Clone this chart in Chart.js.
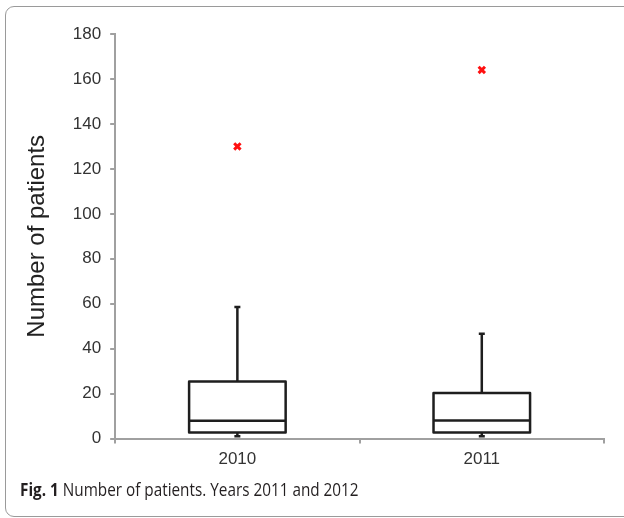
<!DOCTYPE html>
<html>
<head>
<meta charset="utf-8">
<script src="https://cdn.jsdelivr.net/npm/chart.js@4.4.1/dist/chart.umd.min.js"></script>
<style>
  html, body { margin:0; padding:0; background:#fff; }
  body { width:624px; height:518px; position:relative; overflow:hidden; }
  #frame { position:absolute; left:5px; top:6px; width:660px; height:509px; border:1px solid #9a9a9a; border-radius:9px; }
  #wrap { position:absolute; left:0; top:0; width:624px; height:478px; }
  #caption { position:absolute; left:20px; top:477px; font-family:"Open Sans", sans-serif; font-size:18px; color:#231f20; white-space:nowrap; transform-origin:0 0; transform:scaleX(0.85); }
  #caption b { font-weight:700; }
</style>
</head>
<body>
<div id="frame"></div>
<div id="wrap"><canvas id="c" width="624" height="478"></canvas></div>
<div id="caption"><b>Fig. 1</b> Number of patients. Years 2011 and 2012</div>
<script>
const categories = ["2010", "2011"];
const whiskerMin = [1, 1];
const q1Values = [2.7, 2.7];
const medianValues = [7.9, 8];
const q3Values = [25.4, 20.3];
const whiskerMax = [58.5, 46.7];
const outlierValues = [130, 164];
const yTicks = [0, 20, 40, 60, 80, 100, 120, 140, 160, 180];

const boxPlugin = {
  id: 'boxplot',
  beforeDatasetsDraw(chart) {
    const { ctx, scales: { x, y } } = chart;
    const slot = x.width / categories.length;
    const half = slot * 0.395 / 2;
    ctx.save();
    ctx.strokeStyle = '#1e1e1e';
    ctx.lineWidth = 2.5;
    ctx.lineJoin = 'round';
    categories.forEach((c, i) => {
      const cx = x.getPixelForValue(i);
      const yMin = y.getPixelForValue(whiskerMin[i]);
      const yQ1 = y.getPixelForValue(q1Values[i]);
      const yMed = y.getPixelForValue(medianValues[i]);
      const yQ3 = y.getPixelForValue(q3Values[i]);
      const yMax = y.getPixelForValue(whiskerMax[i]);
      ctx.beginPath();
      ctx.moveTo(cx, yQ3); ctx.lineTo(cx, yMax);
      ctx.moveTo(cx - 3, yMax); ctx.lineTo(cx + 3, yMax);
      ctx.moveTo(cx, yQ1); ctx.lineTo(cx, yMin);
      ctx.moveTo(cx - 3, yMin); ctx.lineTo(cx + 3, yMin);
      ctx.stroke();
      ctx.fillStyle = '#fff';
      ctx.fillRect(cx - half, yQ3, 2 * half, yQ1 - yQ3);
      ctx.strokeRect(cx - half, yQ3, 2 * half, yQ1 - yQ3);
      ctx.beginPath();
      ctx.moveTo(cx - half, yMed); ctx.lineTo(cx + half, yMed);
      ctx.stroke();
    });
    ctx.restore();
  }
};

new Chart(document.getElementById('c'), {
  type: 'line',
  data: {
    labels: categories,
    datasets: [{
      label: 'Outliers',
      data: outlierValues,
      showLine: false,
      pointStyle: 'crossRot',
      pointRadius: 4.5,
      pointBorderWidth: 3,
      pointBorderColor: '#ff1010',
      pointBackgroundColor: '#ff1010'
    }]
  },
  options: {
    responsive: false,
    animation: false,
    events: [],
    layout: { padding: { top: 34, right: 20, bottom: 2, left: 23 } },
    plugins: { legend: { display: false }, tooltip: { enabled: false } },
    scales: {
      x: {
        type: 'category',
        offset: true,
        grid: { offset: true, drawOnChartArea: false, drawTicks: true, tickLength: 5, color: '#a0a0a0', lineWidth: 2 },
        border: { display: true, color: '#a0a0a0', width: 2 },
        ticks: { color: '#333', font: { family: 'Liberation Sans, Arial', size: 17 }, padding: 6 }
      },
      y: {
        min: 0, max: 180,
        afterBuildTicks(scale) { scale.ticks = yTicks.map(v => ({ value: v })); },
        grid: { drawOnChartArea: false, drawTicks: true, tickLength: 5, color: '#a0a0a0', lineWidth: 2 },
        border: { display: true, color: '#a0a0a0', width: 2 },
        ticks: { color: '#333', font: { family: 'Liberation Sans, Arial', size: 17 }, padding: 9 },
        title: { display: true, text: 'Number of patients', color: '#222', font: { family: 'Liberation Sans, Arial', size: 24 }, padding: { top: 0, bottom: 12 } }
      }
    }
  },
  plugins: [boxPlugin]
});
</script>
</body>
</html>
